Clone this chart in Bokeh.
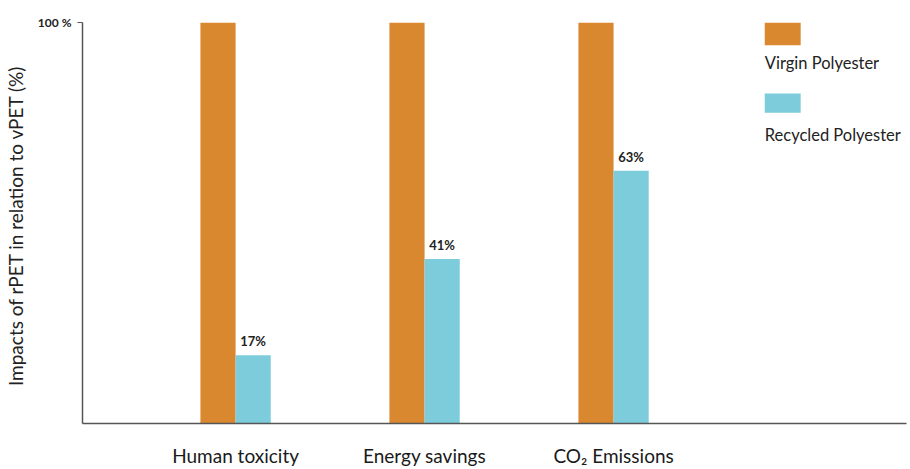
from bokeh.plotting import figure
from bokeh.models import Range1d, FixedTicker, ColumnDataSource
from bokeh.core.properties import value
from bokeh.embed import file_html
from bokeh.resources import INLINE

categories = ["Human toxicity", "Energy savings", "CO\u2082 Emissions"]
virgin = [100, 100, 100]
recycled = [17, 41, 63]
recycled_labels = ["17%", "41%", "63%"]
series_names = ["Virgin Polyester", "Recycled Polyester"]

ORANGE = "#DA8830"
BLUE = "#7DCCDC"
FONT = "Lato"

xs = list(range(len(categories)))
bw = 0.186

p = figure(width=910, height=469, output_backend="svg", toolbar_location=None,
           x_range=Range1d(-0.81, 3.55), y_range=Range1d(0, 100),
           min_border_left=78, min_border_right=4, min_border_top=22, min_border_bottom=40)
p.outline_line_color = None
p.xgrid.grid_line_color = None
p.ygrid.grid_line_color = None
p.background_fill_color = "white"
p.border_fill_color = "white"

src = ColumnDataSource(dict(
    xv=[x - bw / 2 for x in xs], xr=[x + bw / 2 for x in xs],
    virgin=virgin, recycled=recycled, lab=recycled_labels))

p.vbar(x="xv", top="virgin", bottom=0, width=bw, source=src, fill_color=ORANGE, line_color=None)
p.vbar(x="xr", top="recycled", bottom=0, width=bw, source=src, fill_color=BLUE, line_color=None)
p.text(x="xr", y="recycled", text="lab", source=src, text_align="center", text_baseline="bottom",
       y_offset=-6, text_font=value(FONT), text_font_size="13px", text_font_style="bold",
       text_color="#222222")

# legend (stacked swatch above label)
lx0, lx1 = 2.80, 2.99
p.quad(left=[lx0, lx0], right=[lx1, lx1], top=[100, 82.3], bottom=[94.3, 77.5],
       fill_color=[ORANGE, BLUE], line_color=None)
p.text(x=[lx0, lx0], y=[90.0, 72.0], text=series_names, text_align="left", text_baseline="middle",
       text_font=value(FONT), text_font_size="16.5px", text_color="#222222")

# axes
p.xaxis.ticker = FixedTicker(ticks=xs)
p.xaxis.major_label_overrides = {i: c for i, c in enumerate(categories)}
p.xaxis.major_tick_line_color = None
p.xaxis.minor_tick_line_color = None
p.xaxis.major_label_standoff = 14
p.xaxis.major_label_text_font = FONT
p.xaxis.major_label_text_font_size = "19px"
p.xaxis.major_label_text_color = "#1a1a1a"
p.xaxis.axis_line_color = "#555555"
p.xaxis.axis_line_width = 1.5

p.yaxis.ticker = FixedTicker(ticks=[100])
p.yaxis.major_label_overrides = {100: "100 %"}
p.yaxis.major_tick_out = 5
p.yaxis.major_tick_in = 0
p.yaxis.minor_tick_line_color = None
p.yaxis.major_label_standoff = 6
p.yaxis.major_label_text_font = FONT
p.yaxis.major_label_text_font_size = "12px"
p.yaxis.major_label_text_font_style = "bold"
p.yaxis.major_label_text_color = "#222222"
p.yaxis.axis_line_color = "#555555"
p.yaxis.axis_line_width = 1.5
p.yaxis.major_tick_line_color = "#555555"
p.yaxis.axis_label = "Impacts of  rPET in relation to vPET (%)"
p.yaxis.axis_label_text_font = FONT
p.yaxis.axis_label_text_font_size = "19px"
p.yaxis.axis_label_text_font_style = "normal"
p.yaxis.axis_label_text_color = "#222222"
p.yaxis.axis_label_standoff = 8

open("out.html", "w").write(file_html(p, INLINE))
